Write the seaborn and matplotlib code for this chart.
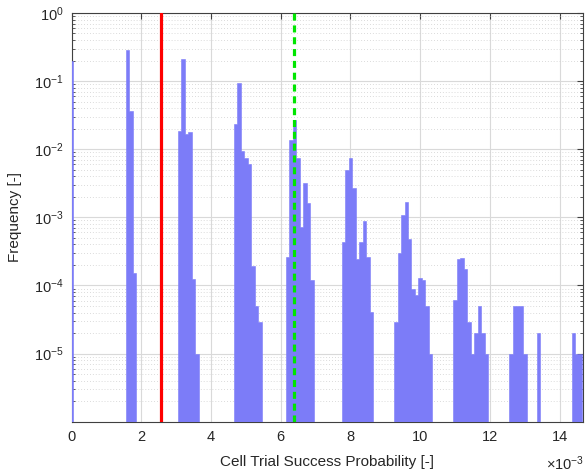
import numpy as np
import pandas as pd
import seaborn as sns
import matplotlib
matplotlib.use("Agg")
import matplotlib.pyplot as plt
from matplotlib.ticker import FixedLocator, LogLocator, FuncFormatter, NullFormatter, LogFormatterMathtext

# ---- data (bin centres in units of probability, frequency per bin) ----
bin_width = 1e-4
c0_x = [0.0]
c0_f = [0.20]
c1_x = [1.6e-3, 1.7e-3, 1.8e-3]
c1_f = [0.286, 0.037, 1.5e-4]
c2_x = [3.1e-3, 3.2e-3, 3.3e-3, 3.4e-3, 3.5e-3, 3.6e-3]
c2_f = [0.0185, 0.209, 0.0166, 0.0177, 1.23e-4, 1.0e-5]
c3_x = [4.7e-3, 4.8e-3, 4.9e-3, 5.0e-3, 5.1e-3, 5.2e-3, 5.3e-3, 5.4e-3]
c3_f = [0.0232, 0.093, 0.0094, 0.0074, 0.0060, 1.9e-4, 5.0e-5, 2.9e-5]
c4_x = [6.2e-3, 6.3e-3, 6.4e-3, 6.5e-3, 6.6e-3, 6.7e-3, 6.8e-3, 6.9e-3]
c4_f = [2.6e-4, 0.0136, 0.0268, 0.0074, 7.3e-4, 3.2e-3, 1.6e-3, 1.2e-4]
c5_x = [7.8e-3, 7.9e-3, 8.0e-3, 8.1e-3, 8.2e-3, 8.3e-3, 8.4e-3, 8.5e-3, 8.6e-3]
c5_f = [4.4e-4, 5.0e-3, 7.4e-3, 2.66e-3, 2.45e-4, 4.4e-4, 8.7e-4, 2.6e-4, 4.1e-5]
c6_x = [9.3e-3, 9.4e-3, 9.5e-3, 9.6e-3, 9.7e-3, 9.8e-3, 9.9e-3, 10.0e-3, 10.1e-3, 10.2e-3, 10.3e-3]
c6_f = [2.9e-5, 3.0e-4, 1.08e-3, 1.7e-3, 4.8e-4, 9.0e-5, 7.2e-5, 1.3e-4, 1.2e-4, 5.0e-5, 1.0e-5]
c7_x = [11.0e-3, 11.1e-3, 11.2e-3, 11.3e-3, 11.4e-3, 11.5e-3, 11.6e-3, 11.7e-3, 11.8e-3, 11.9e-3]
c7_f = [6.1e-5, 2.44e-4, 2.55e-4, 1.74e-4, 2.9e-5, 1.0e-5, 2.0e-5, 5.0e-5, 2.0e-5, 1.0e-5]
c8_x = [12.6e-3, 12.7e-3, 12.8e-3, 12.9e-3, 13.0e-3, 13.4e-3]
c8_f = [1.0e-5, 5.0e-5, 5.0e-5, 5.0e-5, 1.0e-5, 2.0e-5]
c9_x = [14.4e-3, 14.5e-3, 14.6e-3]
c9_f = [2.0e-5, 1.0e-5, 1.0e-5]

red_line_x = 2.56e-3
green_line_x = 6.39e-3

x_ticks = [0, 2e-3, 4e-3, 6e-3, 8e-3, 10e-3, 12e-3, 14e-3]
y_ticks = [1e-5, 1e-4, 1e-3, 1e-2, 1e-1, 1e0]

centers = c0_x + c1_x + c2_x + c3_x + c4_x + c5_x + c6_x + c7_x + c8_x + c9_x
freqs = c0_f + c1_f + c2_f + c3_f + c4_f + c5_f + c6_f + c7_f + c8_f + c9_f
df = pd.DataFrame({"p": centers, "freq": freqs})

# ---- style ----
sns.set_style("white")
plt.rcParams["font.family"] = ["Liberation Sans", "DejaVu Sans"]
plt.rcParams["mathtext.fontset"] = "custom"
plt.rcParams["mathtext.rm"] = "Liberation Sans"
plt.rcParams["mathtext.it"] = "Liberation Sans:italic"

txt_col = "#262626"
bar_col = "#7c7cf8"
fig = plt.figure(figsize=(5.85, 4.74), dpi=100)
ax = fig.add_axes([0.1224, 0.1103, 0.8742, 0.8623])

sns.histplot(data=df, x="p", weights="freq", binwidth=bin_width,
             binrange=(-bin_width / 2, 14.75e-3), stat="count",
             element="step", fill=True,
             color=bar_col, alpha=1.0, linewidth=0.4, edgecolor=bar_col,
             ax=ax, zorder=3)

ax.set_yscale("log")
ax.set_ylim(1e-6, 1)
ax.set_xlim(0, 14.67e-3)

ax.axvline(red_line_x, color="#ff0000", lw=2.3, zorder=4)
ax.axvline(green_line_x, color="#00e600", lw=2.3, ls=(0, (2.2, 1.5)), zorder=4)

# ticks
ax.xaxis.set_major_locator(FixedLocator(x_ticks))
ax.xaxis.set_major_formatter(FuncFormatter(lambda v, p: f"{v*1e3:.0f}"))
ax.yaxis.set_major_locator(FixedLocator(y_ticks))
ax.yaxis.set_major_formatter(LogFormatterMathtext())
ax.yaxis.set_minor_locator(LogLocator(base=10, subs=np.arange(2, 10)))
ax.yaxis.set_minor_formatter(NullFormatter())
ax.tick_params(axis="both", which="major", direction="in", length=4, width=0.8,
               top=True, right=True, colors="#404040", labelcolor=txt_col,
               labelsize=10.5, pad=6)
ax.tick_params(axis="y", which="minor", direction="in", length=2.2, width=0.6,
               left=True, right=True, colors="#404040")

# grid
ax.grid(True, which="major", color="#d9d9d9", lw=0.8, ls="-", zorder=0)
ax.grid(True, which="minor", axis="y", color="#cfcfcf", lw=0.6, ls=(0, (1, 2.5)), zorder=0)
ax.set_axisbelow(True)

for s in ax.spines.values():
    s.set_color("#404040")
    s.set_linewidth(0.8)
    s.set_zorder(2)

ax.set_xlabel("Cell Trial Success Probability [-]", fontsize=11, color=txt_col, labelpad=8)
ax.set_ylabel("Frequency [-]", fontsize=11, color=txt_col, labelpad=8)
fig.text(0.998, 0.022, r"$\times10^{-3}$", ha="right", va="center", fontsize=10.5, color=txt_col)

fig.savefig("out.png", dpi=100)
